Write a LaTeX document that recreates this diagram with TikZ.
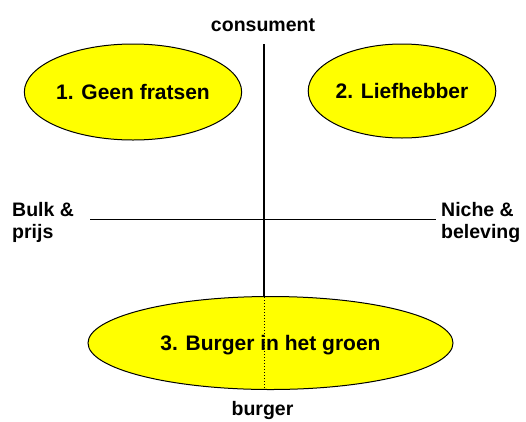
\documentclass[tikz,border=0pt]{standalone}
\usepackage{fontspec}
\setmainfont{Liberation Sans}
\usetikzlibrary{shapes.geometric}
\definecolor{ellyellow}{RGB}{255,255,0}
\begin{document}
\begin{tikzpicture}[x=1pt,y=-1pt,
  quad/.style={ellipse, draw=black, line width=1pt, fill=ellyellow, inner sep=0pt,
    font=\fontsize{21}{24}\selectfont\bfseries, text height=15pt, text depth=0pt},
  axislabel/.style={inner sep=0pt, font=\fontsize{19.5}{22}\selectfont\bfseries},
  axisline/.style={draw=black}]
\useasboundingbox (0,0) rectangle (526,421);
% ellipses
\node[quad, minimum width=183pt, minimum height=96pt] (e1) at (133,92) {1. Geen fratsen};
\node[quad, minimum width=184pt, minimum height=94pt] (e2) at (402,91) {2. Liefhebber};
% axes
\coordinate (vtop) at (264,44);
\coordinate (vmid) at (264,297);
\coordinate (vbot) at (264,389);
\coordinate (hl) at (90,219);
\coordinate (hr) at (436,219);
\draw[axisline, line width=1pt] (hl) -- (hr);
\node[quad, minimum width=365pt, minimum height=93pt] (e3) at (270.5,343) {\phantom{3. Burger in het groen}};
\draw[axisline, line width=2pt] (vtop) -- (vmid);
\draw[axisline, line width=1pt, dotted] (vmid) -- (vbot);
\node[inner sep=0pt, font=\fontsize{21}{24}\selectfont\bfseries, text height=15pt, text depth=0pt] (e3t) at (e3.center) {3. Burger in het groen};
% labels
\node[axislabel, anchor=base] (cons) at (263,31) {consument};
\node[axislabel, anchor=base] (burger) at (262.5,415) {burger};
\node[axislabel, anchor=north west, align=left] (bulk) at (12,202) {Bulk \&\\prijs};
\node[axislabel, anchor=north west, align=left] (niche) at (441,202) {Niche \&\\beleving};
\end{tikzpicture}
\end{document}
